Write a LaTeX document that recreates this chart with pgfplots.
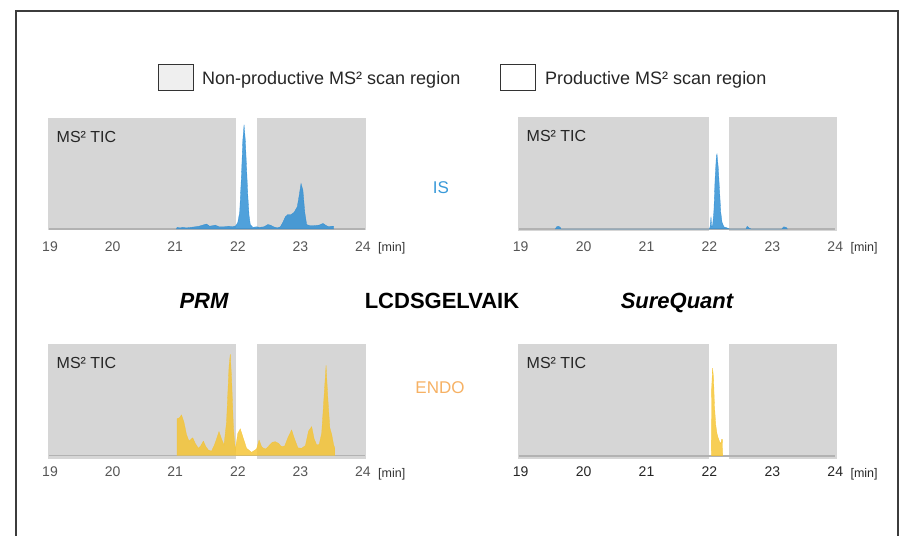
\documentclass[border=0pt]{standalone}
\usepackage{pgfplots}
\pgfplotsset{compat=1.18}
\usepackage{fontspec}
\setmainfont{Liberation Sans}

\definecolor{boxgray}{HTML}{D6D6D6}
\definecolor{basegray}{HTML}{B2B2B2}
\definecolor{isblue}{HTML}{2A8CD3}
\definecolor{endoyel}{HTML}{F5C330}
\definecolor{labblue}{HTML}{3A9AD9}
\definecolor{laborange}{HTML}{F6B164}
\definecolor{framegray}{HTML}{3C3C3C}
\definecolor{tickgray}{HTML}{555555}
\definecolor{leggray}{HTML}{EFEFEF}

\pgfplotsset{
  panel/.style={
    scale only axis, clip=false,
    axis line style={draw=none},
    tick style={draw=none},
    major tick length=0pt,
    ytick=\empty,
    xtick={19,20,...,24},
    /pgf/number format/assume math mode=true,
    xticklabel style={font=\fontsize{14bp}{16bp}\selectfont, text=tickgray, inner sep=0pt, anchor=north},
  },
  trace/.style={fill=#1, fill opacity=0.82, draw=#1, draw opacity=0.9, line width=0.3bp},
}
\newcommand{\tic}{\node[anchor=west, inner sep=0pt, font=\fontsize{16bp}{18bp}\selectfont, text=black!85] at (rel axis cs:0,1) [xshift=8.5bp, yshift=-18.5bp] {MS² TIC};}

\begin{document}
\begin{tikzpicture}
\path[use as bounding box] (0bp,0bp) rectangle (907bp,-536bp);
\draw[framegray, line width=1.5bp] (16bp,-560bp) -- (16bp,-11bp) -- (898bp,-11bp) -- (898bp,-560bp);

% legend
\draw[fill=leggray, draw=black!80, line width=1bp] (158.5bp,-64.5bp) rectangle (193.5bp,-90bp);
\node[anchor=west, inner sep=0pt, font=\fontsize{18bp}{20bp}\selectfont, text=black!85] at (202bp,-80bp) {Non-productive MS² scan region};
\draw[fill=white, draw=black!80, line width=1bp] (500.5bp,-64.5bp) rectangle (535.5bp,-90bp);
\node[anchor=west, inner sep=0pt, font=\fontsize{18bp}{20bp}\selectfont, text=black!85] at (545bp,-80bp) {Productive MS² scan region};

% middle labels
\node[anchor=base, font=\fontsize{22bp}{24bp}\selectfont\bfseries\itshape] at (204bp,-308bp) {PRM};
\node[anchor=base, font=\fontsize{22bp}{24bp}\selectfont\bfseries] at (442bp,-308bp) {LCDSGELVAIK};
\node[anchor=base, font=\fontsize{22bp}{24bp}\selectfont\bfseries\itshape] at (677bp,-308bp) {SureQuant};
\node[font=\fontsize{17bp}{19bp}\selectfont, text=labblue] at (441bp,-188bp) {IS};
\node[font=\fontsize{17bp}{19bp}\selectfont, text=laborange] at (440bp,-388bp) {ENDO};

% IS, PRM
\begin{axis}[panel, at={(48bp,-230bp)}, anchor=south west, width=318bp, height=112bp,
  xmin=18.968, xmax=24.048, ymin=-0.009, ymax=1, xticklabel style={yshift=-11.7bp}]
\addplot[fill=boxgray, draw=none] coordinates {(18.968,-0.009)(21.97,-0.009)(21.97,1)(18.968,1)};
\addplot[fill=boxgray, draw=none] coordinates {(22.31,-0.009)(24.048,-0.009)(24.048,1)(22.31,1)};
\addplot[basegray, line width=1.5bp] coordinates {(18.98,0)(24.03,0)};
\addplot[trace=isblue] coordinates {
(21.02,0)(21.03,0.015)(21.08,0.01)(21.12,0.015)(21.18,0.01)(21.25,0.015)(21.32,0.02)(21.38,0.025)
(21.44,0.035)(21.5,0.045)(21.55,0.025)(21.6,0.03)(21.64,0.035)(21.7,0.02)(21.78,0.02)(21.85,0.025)
(21.92,0.02)(21.97,0.03)(22.0,0.06)(22.03,0.15)(22.06,0.5)(22.08,0.8)(22.1,0.94)(22.12,0.8)
(22.14,0.55)(22.16,0.3)(22.18,0.12)(22.2,0.04)(22.24,0.015)(22.3,0.02)(22.35,0.015)(22.42,0.02)
(22.48,0.04)(22.52,0.035)(22.57,0.02)(22.63,0.01)(22.68,0.02)(22.72,0.06)(22.76,0.11)(22.8,0.13)
(22.85,0.13)(22.9,0.15)(22.95,0.2)(22.98,0.3)(23.01,0.41)(23.04,0.35)(23.07,0.15)(23.1,0.04)
(23.15,0.03)(23.22,0.03)(23.3,0.035)(23.36,0.05)(23.4,0.035)(23.45,0.02)(23.5,0.025)(23.53,0.025)(23.53,0)};
\tic
\node[anchor=base west, inner sep=0pt, font=\fontsize{12.5bp}{14bp}\selectfont, text=black!80] at (axis cs:24.24,0) [yshift=-22.7bp] {[min]};
\end{axis}

% IS, SureQuant
\begin{axis}[panel, at={(518bp,-230.5bp)}, anchor=south west, width=318.5bp, height=113.5bp,
  xmin=18.957, xmax=24.02, ymin=-0.013, ymax=1, xticklabel style={yshift=-11.2bp}]
\addplot[fill=boxgray, draw=none] coordinates {(18.957,-0.013)(21.99,-0.013)(21.99,1)(18.957,1)};
\addplot[fill=boxgray, draw=none] coordinates {(22.31,-0.013)(24.02,-0.013)(24.02,1)(22.31,1)};
\addplot[basegray, line width=1.5bp] coordinates {(18.97,0)(24.0,0)};
\addplot[trace=isblue] coordinates {
(19.55,0)(19.57,0.02)(19.6,0.025)(19.63,0.015)(19.64,0)
(22.0,0)(22.01,0.02)(22.025,0.11)(22.035,0.02)(22.05,0.03)(22.07,0.15)(22.09,0.45)(22.11,0.65)
(22.12,0.67)(22.14,0.55)(22.16,0.35)(22.18,0.15)(22.2,0.06)(22.23,0.02)(22.28,0.01)(22.32,0)
(22.58,0)(22.6,0.025)(22.63,0.01)(22.66,0)
(23.15,0)(23.18,0.02)(23.22,0.015)(23.24,0)};
\tic
\node[anchor=base west, inner sep=0pt, font=\fontsize{12.5bp}{14bp}\selectfont, text=black!80] at (axis cs:24.24,0) [yshift=-22.7bp] {[min]};
\end{axis}

% ENDO, PRM
\begin{axis}[panel, at={(48bp,-459bp)}, anchor=south west, width=318bp, height=115bp,
  xmin=18.968, xmax=24.048, ymin=-0.03, ymax=1, xticklabel style={yshift=-7.7bp}]
\addplot[fill=boxgray, draw=none] coordinates {(18.968,-0.03)(21.97,-0.03)(21.97,1)(18.968,1)};
\addplot[fill=boxgray, draw=none] coordinates {(22.31,-0.03)(24.048,-0.03)(24.048,1)(22.31,1)};
\addplot[basegray, line width=1.5bp] coordinates {(18.98,0)(24.03,0)};
\addplot[trace=endoyel] coordinates {
(21.03,0)(21.03,0.33)(21.07,0.34)(21.1,0.365)(21.14,0.3)(21.18,0.19)(21.22,0.13)(21.28,0.16)
(21.32,0.11)(21.37,0.066)(21.41,0.09)(21.45,0.13)(21.49,0.08)(21.53,0.05)(21.58,0.04)(21.63,0.1)
(21.7,0.215)(21.74,0.15)(21.78,0.096)(21.82,0.3)(21.86,0.8)(21.88,0.91)(21.9,0.7)(21.93,0.25)
(21.96,0.05)(22.0,0.2)(22.04,0.24)(22.08,0.17)(22.14,0.066)(22.22,0.03)(22.3,0.06)(22.34,0.14)
(22.38,0.08)(22.41,0.066)(22.45,0.06)(22.5,0.09)(22.55,0.12)(22.6,0.125)(22.65,0.11)(22.7,0.08)
(22.75,0.087)(22.8,0.16)(22.86,0.23)(22.9,0.16)(22.96,0.07)(23.02,0.066)(23.08,0.09)(23.13,0.22)
(23.18,0.26)(23.22,0.15)(23.26,0.096)(23.3,0.1)(23.34,0.2)(23.38,0.55)(23.41,0.81)(23.44,0.5)
(23.47,0.25)(23.5,0.19)(23.53,0.1)(23.55,0.066)(23.55,0)};
\tic
\node[anchor=base west, inner sep=0pt, font=\fontsize{12.5bp}{14bp}\selectfont, text=black!80] at (axis cs:24.24,0) [yshift=-21.7bp] {[min]};
\end{axis}

% ENDO, SureQuant
\begin{axis}[panel, at={(518bp,-459bp)}, anchor=south west, width=318.5bp, height=115bp,
  xmin=18.957, xmax=24.02, ymin=-0.027, ymax=1, xticklabel style={yshift=-7.7bp, text=black!85}]
\addplot[fill=boxgray, draw=none] coordinates {(18.957,-0.027)(21.99,-0.027)(21.99,1)(18.957,1)};
\addplot[fill=boxgray, draw=none] coordinates {(22.31,-0.027)(24.02,-0.027)(24.02,1)(22.31,1)};
\addplot[basegray, line width=1.5bp] coordinates {(18.97,0)(24.0,0)};
\addplot[trace=endoyel] coordinates {
(22.03,0)(22.035,0.6)(22.05,0.785)(22.065,0.7)(22.08,0.45)(22.1,0.28)(22.12,0.2)(22.14,0.16)
(22.16,0.13)(22.18,0.11)(22.195,0.15)(22.205,0.15)(22.21,0)};
\tic
\node[anchor=base west, inner sep=0pt, font=\fontsize{12.5bp}{14bp}\selectfont, text=black!85] at (axis cs:24.24,0) [yshift=-21.7bp] {[min]};
\end{axis}
\end{tikzpicture}
\end{document}
